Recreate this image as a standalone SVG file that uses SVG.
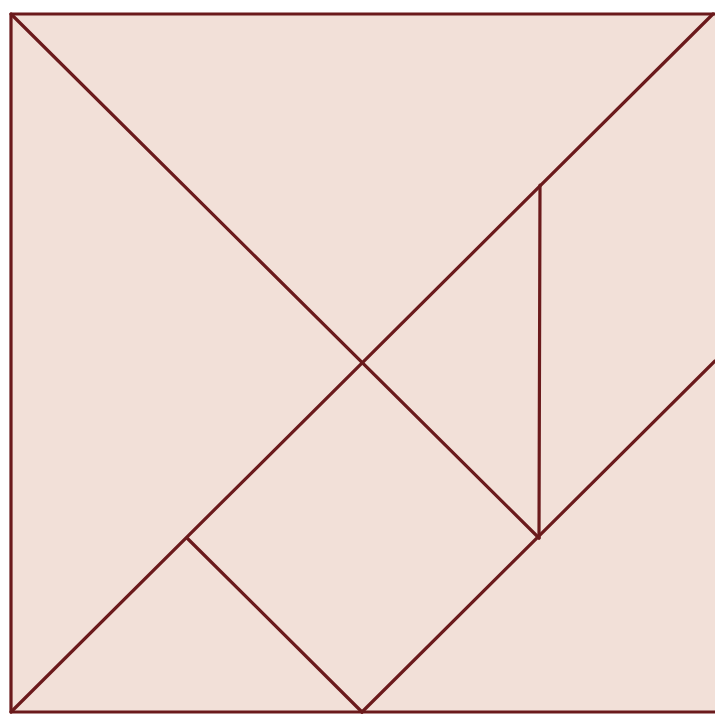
<svg xmlns="http://www.w3.org/2000/svg" width="715" height="715" viewBox="0 0 715 715">
<style>
.p{fill:#f2e0d8;stroke:none}
.l{fill:none;stroke:#6b1a1c;stroke-width:3.2;stroke-linecap:round;stroke-linejoin:round}
</style>
<rect width="715" height="715" fill="#ffffff"/>
<g id="top-triangle"><polygon class="p" points="11,14 715,14 362,363"/></g>
<g id="left-triangle"><polygon class="p" points="11,14 362,363 11,712"/></g>
<g id="small-triangle-bottom"><polygon class="p" points="11,712 187,538 362,712"/></g>
<g id="square"><polygon class="p" points="187,538 362,363 539,538 362,712"/></g>
<g id="small-triangle-middle"><polygon class="p" points="362,363 540,185 539,538"/></g>
<g id="parallelogram"><polygon class="p" points="540,185 715,14 715,363 539,538"/></g>
<g id="medium-triangle"><polygon class="p" points="362,712 715,361 715,712"/></g>
<g id="lines">
<polyline class="l" points="715,14 11,14 11,712 715,712"/>
<line class="l" x1="11" y1="14" x2="539" y2="538"/>
<line class="l" x1="11" y1="712" x2="713" y2="14"/>
<line class="l" x1="540" y1="185" x2="539" y2="538"/>
<line class="l" x1="187" y1="538" x2="362" y2="712"/>
<line class="l" x1="362" y1="712" x2="715" y2="361"/>
</g>
</svg>
